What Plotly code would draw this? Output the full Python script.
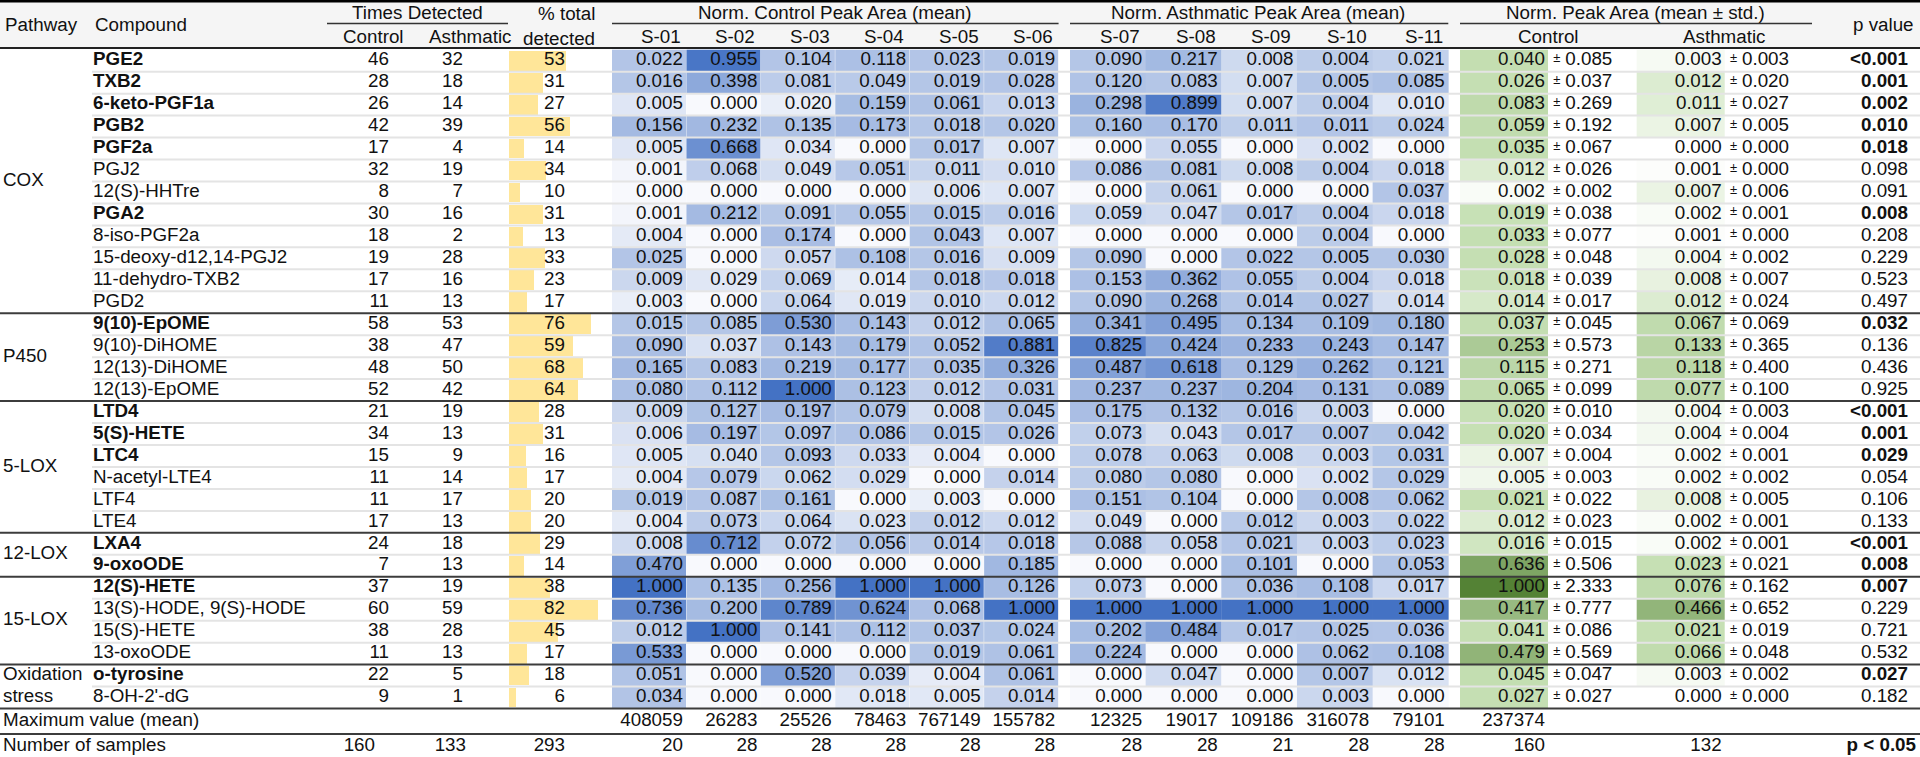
import numpy as np
import plotly.graph_objects as go

# ---------------- data ----------------
pathway_names = ["COX", "P450", "5-LOX", "12-LOX", "15-LOX", "Oxidation stress"]
pathway_counts = [12, 4, 6, 2, 4, 2]

compounds = ["PGE2", "TXB2", "6-keto-PGF1a", "PGB2", "PGF2a", "PGJ2", "12(S)-HHTre", "PGA2",
             "8-iso-PGF2a", "15-deoxy-d12,14-PGJ2", "11-dehydro-TXB2", "PGD2",
             "9(10)-EpOME", "9(10)-DiHOME", "12(13)-DiHOME", "12(13)-EpOME",
             "LTD4", "5(S)-HETE", "LTC4", "N-acetyl-LTE4", "LTF4", "LTE4",
             "LXA4", "9-oxoODE",
             "12(S)-HETE", "13(S)-HODE, 9(S)-HODE", "15(S)-HETE", "13-oxoODE",
             "o-tyrosine", "8-OH-2'-dG"]

detected_control = [46, 28, 26, 42, 17, 32, 8, 30, 18, 19, 17, 11, 58, 38, 48, 52,
                    21, 34, 15, 11, 11, 17, 24, 7, 37, 60, 38, 11, 22, 9]
detected_asthmatic = [32, 18, 14, 39, 4, 19, 7, 16, 2, 28, 16, 13, 53, 47, 50, 42,
                      19, 13, 9, 14, 17, 13, 18, 13, 19, 59, 28, 13, 5, 1]
pct_total_detected = [53, 31, 27, 56, 14, 34, 10, 31, 13, 33, 23, 17, 76, 59, 68, 64,
                      28, 31, 16, 17, 20, 20, 29, 14, 38, 82, 45, 17, 18, 6]

control_samples = ["S-01", "S-02", "S-03", "S-04", "S-05", "S-06"]
asthmatic_samples = ["S-07", "S-08", "S-09", "S-10", "S-11"]

s01 = [0.022, 0.016, 0.005, 0.156, 0.005, 0.001, 0.000, 0.001, 0.004, 0.025, 0.009, 0.003,
       0.015, 0.090, 0.165, 0.080, 0.009, 0.006, 0.005, 0.004, 0.019, 0.004,
       0.008, 0.470, 1.000, 0.736, 0.012, 0.533, 0.051, 0.034]
s02 = [0.955, 0.398, 0.000, 0.232, 0.668, 0.068, 0.000, 0.212, 0.000, 0.000, 0.029, 0.000,
       0.085, 0.037, 0.083, 0.112, 0.127, 0.197, 0.040, 0.079, 0.087, 0.073,
       0.712, 0.000, 0.135, 0.200, 1.000, 0.000, 0.000, 0.000]
s03 = [0.104, 0.081, 0.020, 0.135, 0.034, 0.049, 0.000, 0.091, 0.174, 0.057, 0.069, 0.064,
       0.530, 0.143, 0.219, 1.000, 0.197, 0.097, 0.093, 0.062, 0.161, 0.064,
       0.072, 0.000, 0.256, 0.789, 0.141, 0.000, 0.520, 0.000]
s04 = [0.118, 0.049, 0.159, 0.173, 0.000, 0.051, 0.000, 0.055, 0.000, 0.108, 0.014, 0.019,
       0.143, 0.179, 0.177, 0.123, 0.079, 0.086, 0.033, 0.029, 0.000, 0.023,
       0.056, 0.000, 1.000, 0.624, 0.112, 0.000, 0.039, 0.018]
s05 = [0.023, 0.019, 0.061, 0.018, 0.017, 0.011, 0.006, 0.015, 0.043, 0.016, 0.018, 0.010,
       0.012, 0.052, 0.035, 0.012, 0.008, 0.015, 0.004, 0.000, 0.003, 0.012,
       0.014, 0.000, 1.000, 0.068, 0.037, 0.019, 0.004, 0.005]
s06 = [0.019, 0.028, 0.013, 0.020, 0.007, 0.010, 0.007, 0.016, 0.007, 0.009, 0.018, 0.012,
       0.065, 0.881, 0.326, 0.031, 0.045, 0.026, 0.000, 0.014, 0.000, 0.012,
       0.018, 0.185, 0.126, 1.000, 0.024, 0.061, 0.061, 0.014]
s07 = [0.090, 0.120, 0.298, 0.160, 0.000, 0.086, 0.000, 0.059, 0.000, 0.090, 0.153, 0.090,
       0.341, 0.825, 0.487, 0.237, 0.175, 0.073, 0.078, 0.080, 0.151, 0.049,
       0.088, 0.000, 0.073, 1.000, 0.202, 0.224, 0.000, 0.000]
s08 = [0.217, 0.083, 0.899, 0.170, 0.055, 0.081, 0.061, 0.047, 0.000, 0.000, 0.362, 0.268,
       0.495, 0.424, 0.618, 0.237, 0.132, 0.043, 0.063, 0.080, 0.104, 0.000,
       0.058, 0.000, 0.000, 1.000, 0.484, 0.000, 0.047, 0.000]
s09 = [0.008, 0.007, 0.007, 0.011, 0.000, 0.008, 0.000, 0.017, 0.000, 0.022, 0.055, 0.014,
       0.134, 0.233, 0.129, 0.204, 0.016, 0.017, 0.008, 0.000, 0.000, 0.012,
       0.021, 0.101, 0.036, 1.000, 0.017, 0.000, 0.000, 0.000]
s10 = [0.004, 0.005, 0.004, 0.011, 0.002, 0.004, 0.000, 0.004, 0.004, 0.005, 0.004, 0.027,
       0.109, 0.243, 0.262, 0.131, 0.003, 0.007, 0.003, 0.002, 0.008, 0.003,
       0.003, 0.000, 0.108, 1.000, 0.025, 0.062, 0.007, 0.003]
s11 = [0.021, 0.085, 0.010, 0.024, 0.000, 0.018, 0.037, 0.018, 0.000, 0.030, 0.018, 0.014,
       0.180, 0.147, 0.121, 0.089, 0.000, 0.042, 0.031, 0.029, 0.062, 0.022,
       0.023, 0.053, 0.017, 1.000, 0.036, 0.108, 0.012, 0.000]

mean_control = [0.040, 0.026, 0.083, 0.059, 0.035, 0.012, 0.002, 0.019, 0.033, 0.028, 0.018, 0.014,
                0.037, 0.253, 0.115, 0.065, 0.020, 0.020, 0.007, 0.005, 0.021, 0.012,
                0.016, 0.636, 1.000, 0.417, 0.041, 0.479, 0.045, 0.027]
std_control = [0.085, 0.037, 0.269, 0.192, 0.067, 0.026, 0.002, 0.038, 0.077, 0.048, 0.039, 0.017,
               0.045, 0.573, 0.271, 0.099, 0.010, 0.034, 0.004, 0.003, 0.022, 0.023,
               0.015, 0.506, 2.333, 0.777, 0.086, 0.569, 0.047, 0.027]
mean_asthmatic = [0.003, 0.012, 0.011, 0.007, 0.000, 0.001, 0.007, 0.002, 0.001, 0.004, 0.008, 0.012,
                  0.067, 0.133, 0.118, 0.077, 0.004, 0.004, 0.002, 0.002, 0.008, 0.002,
                  0.002, 0.023, 0.076, 0.466, 0.021, 0.066, 0.003, 0.000]
std_asthmatic = [0.003, 0.020, 0.027, 0.005, 0.000, 0.000, 0.006, 0.001, 0.000, 0.002, 0.007, 0.024,
                 0.069, 0.365, 0.400, 0.100, 0.003, 0.004, 0.001, 0.002, 0.005, 0.001,
                 0.001, 0.021, 0.162, 0.652, 0.019, 0.048, 0.002, 0.000]
p_values = ["<0.001", "0.001", "0.002", "0.010", "0.018", "0.098", "0.091", "0.008", "0.208", "0.229",
            "0.523", "0.497", "0.032", "0.136", "0.436", "0.925", "<0.001", "0.001", "0.029", "0.054",
            "0.106", "0.133", "<0.001", "0.008", "0.007", "0.229", "0.721", "0.532", "0.027", "0.182"]

max_control = [408059, 26283, 25526, 78463, 767149, 155782]
max_asthmatic = [12325, 19017, 109186, 316078, 79101]
max_mean_control = 237374
n_detected_totals = [160, 133, 293]
n_control_samples = [20, 28, 28, 28, 28, 28]
n_asthmatic_samples = [28, 28, 21, 28, 28]
n_group_samples = [160, 132]

control_cols = [s01, s02, s03, s04, s05, s06]
asthmatic_cols = [s07, s08, s09, s10, s11]

# ---------------- layout constants ----------------
FONT = "Liberation Sans Narrow, Arial Narrow, Liberation Sans, Arial"
FS = 18.8
W, H = 1920, 757
ROW0 = 60.7      # px centre of first data row
PITCH = 21.96    # px per row


def ypx(px):
    return (px - ROW0) / PITCH


n = len(compounds)
rows = list(range(n))
edges = [i - 0.5 for i in range(n + 1)]

X_PATH, X_COMP = 3, 93
X_CTRL_R, X_ASTH_R = 389, 463
PCT_L, PCT_R, PCT_SPAN = 509, 612, 95
X_PCT_R = 565
CTRL_L, CTRL_W = 612, 74.43
ASTH_L, ASTH_W = 1070, 75.66
G_CTRL = (1460, 1548.3)
G_ASTH = (1636.7, 1725.0)
X_P_R = 1908
PAD = 3.5
PM_RAISE = 0.1
Y_MAX = ypx(721.7)
Y_NUM = ypx(746.7)

BLUE = ("#f8f9fd", "#b4c6e7", "#4472c4")
GREEN = ("#ffffff", "#c6e0b4", "#548235")


def pval_num(s):
    return 0.0005 if s.startswith("<") else float(s)


sig = [pval_num(p) < 0.05 for p in p_values]


def bold(t, b):
    return f"<b>{t}</b>" if b else t


def three_scale(vals, colors, lo=None, hi=None):
    v = np.asarray(vals, dtype=float)
    lo = v.min() if lo is None else lo
    hi = v.max() if hi is None else hi
    mid = np.percentile(v, 50)
    p = min(max((mid - lo) / (hi - lo), 1e-4), 1 - 1e-4)
    return [[0, colors[0]], [p, colors[1]], [1, colors[2]]], lo, hi


fig = go.Figure()


def text_trace(xs, ys, texts, pos="middle left", xaxis="x", size=FS):
    fig.add_trace(go.Scatter(
        x=xs, y=ys, text=texts, mode="text", textposition=pos,
        marker=dict(size=0), xaxis=xaxis, yaxis="y",
        textfont=dict(family=FONT, size=size, color="#111111"),
        hoverinfo="skip", showlegend=False, cliponaxis=False))


# heatmap cells (blue, per-column 3-colour scale)
cell_cols = []
for k, col in enumerate(control_cols):
    cell_cols.append((CTRL_L + k * CTRL_W, CTRL_L + (k + 1) * CTRL_W, col))
for k, col in enumerate(asthmatic_cols):
    cell_cols.append((ASTH_L + k * ASTH_W, ASTH_L + (k + 1) * ASTH_W, col))

for left, right, col in cell_cols:
    cs, lo, hi = three_scale(col, BLUE)
    fig.add_trace(go.Heatmap(z=[[v] for v in col], x=[left, right], y=edges,
                             colorscale=cs, zmin=lo, zmax=hi, showscale=False,
                             hoverinfo="skip"))
    text_trace([right - PAD] * n, rows, [f"{v:.3f}" for v in col])

# green mean cells (shared 3-colour scale)
gcs, glo, ghi = three_scale(mean_control + mean_asthmatic, GREEN, 0.0, 1.0)
for (left, right), means, stds in [(G_CTRL, mean_control, std_control),
                                   (G_ASTH, mean_asthmatic, std_asthmatic)]:
    fig.add_trace(go.Heatmap(z=[[v] for v in means], x=[left, right], y=edges,
                             colorscale=gcs, zmin=glo, zmax=ghi, showscale=False,
                             hoverinfo="skip"))
    text_trace([right - 3.3] * n, rows, [f"{v:.3f}" for v in means])
    text_trace([right + 5] * n, [r - PM_RAISE for r in rows], ["±"] * n, pos="middle right", size=13)
    text_trace([right + 17] * n, rows, [f"{s:.3f}" for s in stds], pos="middle right")

# % detected bars
fig.add_trace(go.Bar(x=pct_total_detected, y=rows, orientation="h", xaxis="x2", yaxis="y",
                     marker=dict(color="#ffe699", line=dict(width=0)), width=0.9,
                     hoverinfo="skip", showlegend=False))
pct_text_x = (X_PCT_R - PCT_L) / (PCT_R - PCT_L) * PCT_SPAN
text_trace([pct_text_x] * n, rows, [str(v) for v in pct_total_detected], xaxis="x2")

# compounds, counts, p values
text_trace([X_COMP] * n, rows, [bold(c, s) for c, s in zip(compounds, sig)], pos="middle right")
text_trace([X_CTRL_R] * n, rows, [str(v) for v in detected_control])
text_trace([X_ASTH_R] * n, rows, [str(v) for v in detected_asthmatic])
text_trace([X_P_R] * n, rows, [bold(p, s) for p, s in zip(p_values, sig)])

# pathway labels
path_x, path_y, path_t = [], [], []
start = 0
for name, cnt in zip(pathway_names, pathway_counts):
    centre = start + (cnt - 1) / 2
    words = name.split(" ")
    for j, w in enumerate(words):
        path_x.append(X_PATH)
        path_y.append(centre + (j - (len(words) - 1) / 2))
        path_t.append(w)
    start += cnt
text_trace(path_x, path_y, path_t, pos="middle right")

# footer rows
ctrl_rights = [l + CTRL_W - PAD for l, r, c in cell_cols[:6]]
asth_rights = [l + ASTH_W - PAD for l, r, c in cell_cols[6:]]
text_trace([X_PATH, X_PATH], [Y_MAX, Y_NUM], ["Maximum value (mean)", "Number of samples"], pos="middle right")
text_trace(ctrl_rights + asth_rights + [G_CTRL[1] - 3.3], [Y_MAX] * 12,
           [str(v) for v in max_control + max_asthmatic + [max_mean_control]])
text_trace([375, 466, X_PCT_R] + ctrl_rights + asth_rights + [G_CTRL[1] - 3.3, G_ASTH[1] - 3.3],
           [Y_NUM] * 16,
           [str(v) for v in n_detected_totals + n_control_samples + n_asthmatic_samples + n_group_samples])
text_trace([1916], [Y_NUM], ["<b>p < 0.05</b>"])

# ---------------- headers ----------------
ann = []


def header(t, x, ypix, anchor="center"):
    ann.append(dict(text=t, x=x, y=ypx(ypix), xref="x", yref="y", xanchor=anchor,
                    yanchor="middle", showarrow=False,
                    font=dict(family=FONT, size=FS, color="#111111")))


header("Pathway", X_PATH, 24.8, "left")
header("Compound", X_COMP, 24.8, "left")
header("Times Detected", 417, 12.7)
header("Control", 373.6, 36.7)
header("Asthmatic", 470, 36.7)
header("% total", 597, 13.6, "right")
header("detected", 597, 38.6, "right")
header("Norm. Control Peak Area (mean)", 834, 12.7)
for name, xr in zip(control_samples, ctrl_rights):
    header(name, xr, 36.7, "right")
header("Norm. Asthmatic Peak Area (mean)", 1258, 12.7)
for name, xr in zip(asthmatic_samples, asth_rights):
    header(name, xr, 36.7, "right")
header("Norm. Peak Area (mean ± std.)", 1635, 12.7)
header("Control", 1548, 36.7)
header("Asthmatic", 1724, 36.7)
header("p value", 1916, 24, "right")

# ---------------- rules ----------------
shapes = []
shapes.append(dict(type="rect", xref="x", yref="y", x0=0, x1=W, y0=ypx(0), y1=ypx(48),
                   fillcolor="#f5f5f5", line=dict(width=0), layer="below"))
group_bounds = list(np.cumsum(pathway_counts)[:-1])
for b in range(1, n):
    if b not in group_bounds:
        shapes.append(dict(type="line", xref="x", yref="y", x0=X_COMP - 1, x1=W,
                           y0=b - 0.5, y1=b - 0.5, line=dict(color="#e4e4e4", width=2), layer="above"))
for b in group_bounds + [n]:
    shapes.append(dict(type="line", xref="x", yref="y", x0=0, x1=W, y0=b - 0.5, y1=b - 0.5,
                       line=dict(color="#3c3c3c", width=2), layer="above"))
shapes.append(dict(type="line", xref="x", yref="y", x0=0, x1=W, y0=ypx(734), y1=ypx(734),
                   line=dict(color="#3c3c3c", width=2), layer="above"))
shapes.append(dict(type="line", xref="x", yref="y", x0=0, x1=W, y0=ypx(48), y1=ypx(48),
                   line=dict(color="#222222", width=2), layer="above"))
shapes.append(dict(type="line", xref="x", yref="y", x0=0, x1=W, y0=ypx(1.2), y1=ypx(1.2),
                   line=dict(color="#000000", width=2.5), layer="above"))
for x0, x1 in [(327, 508), (CTRL_L, CTRL_L + 6 * CTRL_W), (ASTH_L, ASTH_L + 5 * ASTH_W), (1460, 1812)]:
    shapes.append(dict(type="line", xref="x", yref="y", x0=x0, x1=x1, y0=ypx(23.5), y1=ypx(23.5),
                       line=dict(color="#333333", width=1.5), layer="above"))

fig.update_layout(
    width=W, height=H, margin=dict(l=0, r=0, t=0, b=0),
    paper_bgcolor="white", plot_bgcolor="rgba(0,0,0,0)",
    showlegend=False, annotations=ann, shapes=shapes,
    xaxis=dict(range=[0, W], domain=[0, 1], visible=False, fixedrange=True),
    xaxis2=dict(range=[0, PCT_SPAN], domain=[PCT_L / W, PCT_R / W], anchor="y",
                visible=False, fixedrange=True),
    yaxis=dict(range=[ypx(H), ypx(0)], domain=[0, 1], visible=False, fixedrange=True),
    bargap=0,
)

fig.write_html("out.html", config={"displayModeBar": False},
               post_script="document.body.style.margin='0';document.body.style.overflow='hidden';")
